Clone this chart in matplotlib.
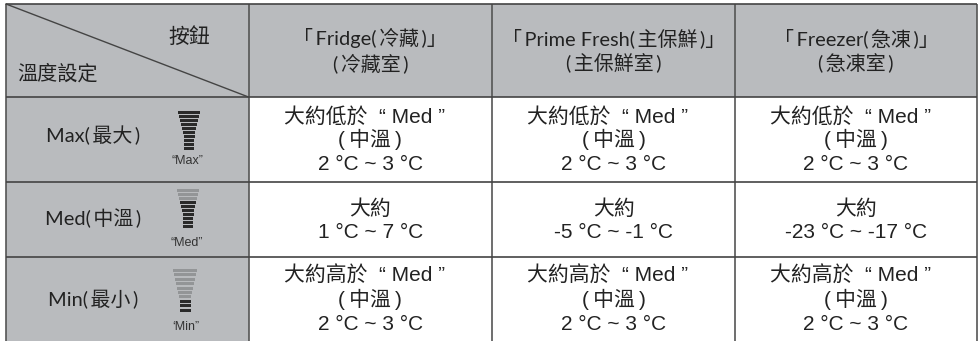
import matplotlib
matplotlib.use("Agg")
import matplotlib.pyplot as plt
from matplotlib.patches import Rectangle

sans = ['Liberation Sans', 'Noto Sans CJK TC', 'DejaVu Sans']
head = ['Lato', 'Noto Sans CJK TC', 'DejaVu Sans']
plt.rcParams['font.family'] = sans

# table content (thin spaces open up the brackets like the reference)
col_heads = ["「\u2009Fridge(\u2009冷藏\u2009)」\n(\u2009冷藏室\u2009)",
             "「\u2009Prime Fresh(\u2009主保鮮\u2009)」\n(\u2009主保鮮室\u2009)",
             "「\u2009Freezer(\u2009急凍\u2009)」\n(\u2009急凍室\u2009)"]
row_heads = ["Max(\u2009最大\u2009)", "Med(\u2009中溫\u2009)", "Min(\u2009最小\u2009)"]
icon_labels = ["“Max”", "“Med”", "‘Min”"]
cells = [
    ["大約低於  “ Med ”  \n(\u2009中溫\u2009)\n2 °C ~ 3 °C"] * 3,
    ["大約\n1 °C ~ 7 °C", "大約\n-5 °C ~ -1 °C", "大約\n-23 °C ~ -17 °C"],
    ["大約高於  “ Med ”  \n(\u2009中溫\u2009)\n2 °C ~ 3 °C"] * 3,
]
corner_top = "按鈕"
corner_bottom = "溫度設定"

# dark bars per icon, out of 10 (the rest are pale)
icon_dark = [10, 7, 3]
icon_widths = [22, 20, 18, 16, 14, 12, 11, 10, 10, 10]

col_x = [6, 248.5, 492, 735, 977]
row_y = [4, 97, 181.5, 256.5, 341]
grey = "#b9bbbe"
line = "#444444"
ink = "#222222"

fig = plt.figure(figsize=(9.8, 3.41), dpi=100, facecolor="white")
ax = fig.add_axes([0, 0, 1, 1])
ax.set_xlim(0, 980)
ax.set_ylim(341, 0)
ax.axis("off")

ax.add_patch(Rectangle((col_x[0], row_y[0]), col_x[4] - col_x[0], row_y[1] - row_y[0], color=grey, lw=0))
ax.add_patch(Rectangle((col_x[0], row_y[1]), col_x[1] - col_x[0], row_y[4] - row_y[1], color=grey, lw=0))

for x in col_x:
    ax.plot([x, x], [row_y[0], row_y[4]], color="#555555", lw=1.2, solid_capstyle="butt")
for y in row_y[:-1]:
    ax.plot([col_x[0], col_x[4]], [y, y], color=line, lw=1.2, solid_capstyle="butt")
ax.plot([col_x[0], col_x[1]], [row_y[0], row_y[1]], color=line, lw=1.0)


def put_lines(x, cy, txt, size, step, family):
    # one text per line so the line pitch stays fixed
    rows = txt.split("\n")
    for j, t in enumerate(rows):
        y = cy + (j - (len(rows) - 1) / 2) * step + 7
        ax.text(x, y, t, fontsize=size, ha="center", va="baseline", color=ink, family=family)


ax.text(189.5, 43, corner_top, fontsize=15, ha="center", va="baseline", color=ink, family=head)
ax.text(57.5, 80, corner_bottom, fontsize=14.5, ha="center", va="baseline", color=ink, family=head)

for i, txt in enumerate(col_heads):
    put_lines((col_x[i + 1] + col_x[i + 2]) / 2, 50.5, txt, 14.4, 25, head)

row_text_y = [135.5, 218.5, 299.5]
cell_y = [139.5, 219.5, 299]
for r in range(3):
    put_lines(93.5, row_text_y[r], row_heads[r], 14.4, 24, head)
    for c in range(3):
        put_lines((col_x[c + 1] + col_x[c + 2]) / 2, cell_y[r], cells[r][c], 15, 24, sans)

# icons
icon_x = [189, 188, 185]
icon_tops = [111, 189, 269]
icon_pitch = [4.05, 3.95, 4.4]
icon_scale = [1.0, 1.0, 1.1]
icon_label_x = [187, 187, 186]
icon_label_y = [164.5, 245.5, 330.5]
for r, top in enumerate(icon_tops):
    for k, w in enumerate(icon_widths):
        dark = k >= 10 - icon_dark[r]
        w = w * icon_scale[r]
        ax.add_patch(Rectangle((icon_x[r] - w / 2, top + k * icon_pitch[r]), w, 3.0, lw=0,
                               color="#2a2a2a" if dark else "#939597"))
    ax.text(icon_label_x[r], icon_label_y[r], icon_labels[r], fontsize=9, ha="center", va="baseline",
            color="#333333", family="Liberation Sans")

fig.savefig("out.png", dpi=100, facecolor="white")
